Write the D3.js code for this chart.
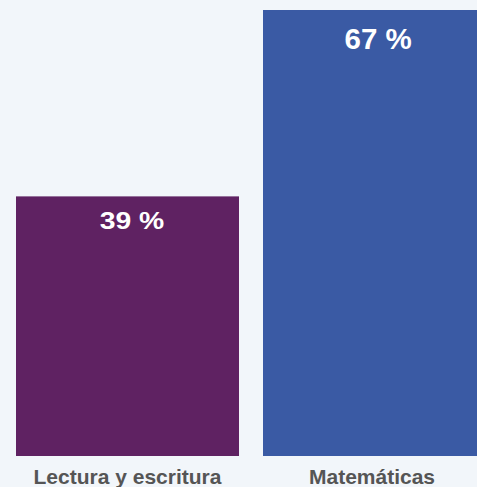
<!DOCTYPE html>
<html><head><meta charset="utf-8">
<script src="https://cdn.jsdelivr.net/npm/d3@7"></script>
<style>html,body{margin:0;padding:0;background:#f2f6fa;overflow:hidden}</style>
</head><body>
<svg id="chart" width="477" height="487"></svg>
<script>
const categories = ["Lectura y escritura", "Matemáticas"];
const values = [39, 67];
const valueLabels = ["39 %", "67 %"];
const colors = ["#5f2262", "#3a5aa4"];

// label styling (not data)
const LABEL_STYLE = [
  { size: 28.3, sy: 0.87, dx: 4.5, dy: 33 },
  { size: 29.5, sy: 1.0, dx: 3.7, dy: 38.7 }
];

const svg = d3.select("#chart");
const x = d3.scaleBand().domain(categories).range([16, 486]).paddingInner(24/247).paddingOuter(0);
const y = d3.scaleLinear().domain([0, 67]).range([456, 10]);

svg.append("rect").attr("width", 477).attr("height", 487).attr("fill", "#f2f6fa");

const g = svg.append("g");
g.selectAll("rect.bar").data(values).enter().append("rect")
  .attr("class", "bar")
  .attr("x", (d, i) => x(categories[i]))
  .attr("y", d => y(d))
  .attr("width", x.bandwidth())
  .attr("height", d => y(0) - y(d))
  .attr("fill", (d, i) => colors[i]);

g.selectAll("text.val").data(values).enter().append("text")
  .attr("class", "val")
  .attr("transform", (d, i) => {
    const s = LABEL_STYLE[i];
    return `translate(${x(categories[i]) + x.bandwidth() / 2 + s.dx},${y(d) + s.dy}) scale(1,${s.sy})`;
  })
  .attr("text-anchor", "middle")
  .attr("fill", "#ffffff")
  .style("font-family", "'Liberation Sans', Arial, Helvetica, sans-serif")
  .style("font-weight", "bold")
  .style("font-size", (d, i) => LABEL_STYLE[i].size + "px")
  .text((d, i) => valueLabels[i]);

const xAxis = d3.axisBottom(x).tickSize(0).tickPadding(0);
const ax = svg.append("g").attr("transform", "translate(0,469)").call(xAxis);
ax.select(".domain").remove();
ax.selectAll("text")
  .attr("dy", "0.71em")
  .attr("fill", "#555555")
  .style("font-family", "'Liberation Sans', Arial, sans-serif")
  .style("font-weight", "bold")
  .style("font-size", "21px");
ax.selectAll(".tick").filter((d, i) => i === 1).select("text").attr("x", -2.5);
</script>
</body></html>
